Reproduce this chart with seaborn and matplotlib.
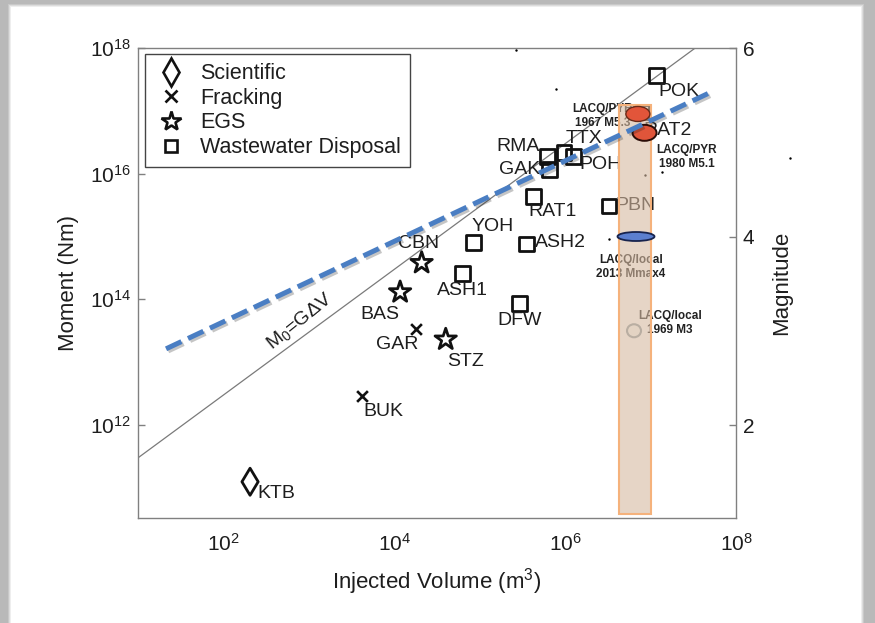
import numpy as np
import pandas as pd
import matplotlib
matplotlib.use("Agg")
import matplotlib.pyplot as plt
import matplotlib.patheffects as pe
from matplotlib.patches import Rectangle, Ellipse
from matplotlib.lines import Line2D
from matplotlib.transforms import ScaledTranslation
from matplotlib.ticker import FixedLocator, FuncFormatter, NullLocator
import seaborn as sns

# ---- injection sites -------------------------------------------------------
site_names = ["KTB", "BUK", "GAR", "BAS", "CBN", "STZ", "ASH1", "YOH", "DFW",
              "ASH2", "RAT1", "GAK", "RMA", "TTX", "POH", "PBN", "POK", "RAT2"]
site_types = ["Scientific", "Fracking", "Fracking", "EGS", "EGS", "EGS",
              "Wastewater Disposal", "Wastewater Disposal", "Wastewater Disposal",
              "Wastewater Disposal", "Wastewater Disposal", "Wastewater Disposal",
              "Wastewater Disposal", "Wastewater Disposal", "Wastewater Disposal",
              "Wastewater Disposal", "Wastewater Disposal", "Wastewater Disposal"]
site_volume = [2.05e2, 4.16e3, 1.79e4, 1.17e4, 2.09e4, 4.0e4, 6.3e4, 8.4e4, 2.9e5,
               3.5e5, 4.3e5, 6.5e5, 6.25e5, 9.7e5, 1.24e6, 3.26e6, 1.17e7, 7.9e6]
site_moment = [1.25e11, 2.9e12, 3.4e13, 1.3e14, 3.8e14, 2.3e13, 2.6e14, 7.9e14, 8.5e13,
               7.6e14, 4.3e15, 1.15e16, 1.9e16, 2.2e16, 1.85e16, 3.06e15, 3.6e17, 9.6e16]

categories = ["Scientific", "Fracking", "EGS", "Wastewater Disposal"]

# ---- Lacq events ------------------------------------------------------------
lacq_labels = ["LACQ/PYR\n1967 M5.3", "LACQ/PYR\n1980 M5.1",
               "LACQ/local\n2013 Mmax4", "LACQ/local\n1969 M3"]
lacq_volume = [7.1e6, 8.5e6, 6.75e6, 6.4e6]
lacq_magnitude = [5.3, 5.1, 4.0, 3.0]

# Lacq injected-volume band and its moment extent
band_volume = [4.31e6, 1.0e7]
band_moment = [3.8e10, 1.22e17]

# trend drawn through the Lacq cluster
trend_volume = [21.3, 5.16e7]
trend_moment = [1.63e13, 2.0e17]

# small stray points
dot_volume = [2.66e5, 7.8e5, 8.5e6, 1.36e7, 3.26e6, 4.3e8]
dot_moment = [9.3e17, 2.23e17, 9.5e15, 1.06e16, 9.1e14, 1.78e16]

# shear modulus for M0 = G dV (Pa)
G_SHEAR = 3e10
guide_volume = [10.0, 1e8]

x_ticks = [1e2, 1e4, 1e6, 1e8]
y_ticks = [1e12, 1e14, 1e16, 1e18]
mag_ticks = [2, 4, 6]


def moment_to_mw(m):
    return (2.0 / 3.0) * np.log10(m) - 6.0


def mw_to_moment(mw):
    return 10 ** (1.5 * (np.asarray(mw) + 6.0))


# ---- layout / style ---------------------------------------------------------
label_offsets = {  # pixel offsets of each site label from its marker
    "KTB": (26, -12), "BUK": (22, -16), "GAR": (-19, -16), "BAS": (-20, -22),
    "CBN": (-3, 19), "STZ": (20, -22), "ASH1": (0, -17), "YOH": (19, 16),
    "DFW": (0, -17), "ASH2": (34, 1), "RAT1": (19, -15), "GAK": (-30, 0),
    "RMA": (-30, 10), "TTX": (20, 14), "POH": (27, -8), "PBN": (26, 0),
    "POK": (23, -16), "RAT2": (26, -19),
}
marker_style = {
    "Scientific": dict(marker="d", s=190),
    "Fracking": dict(marker="x", s=60),
    "EGS": dict(marker="*", s=260),
    "Wastewater Disposal": dict(marker="s", s=115),
}

sns.set_theme(style="white")
plt.rcParams["font.family"] = ["Liberation Sans", "DejaVu Sans"]
plt.rcParams["mathtext.fontset"] = "custom"
plt.rcParams["mathtext.rm"] = "Liberation Sans"
plt.rcParams["mathtext.it"] = "Liberation Sans:italic"
plt.rcParams["mathtext.bf"] = "Liberation Sans:bold"

W, H = 875, 623
fig = plt.figure(figsize=(W / 100, H / 100), dpi=100)
fig.patch.set_facecolor("#b9b9b9")
# white page with a soft edge
for i, c in enumerate(["#c8c8c8", "#dcdcdc", "#eeeeee"]):
    fig.add_artist(Rectangle(((8 + i) / W, 0), (856 - 2 * i) / W, (619 - i) / H,
                             transform=fig.transFigure, facecolor=c,
                             edgecolor="none", zorder=-3 + i * 0.1))
fig.add_artist(Rectangle((11 / W, 0), 850 / W, 616 / H, transform=fig.transFigure,
                         facecolor="white", edgecolor="none", zorder=-2))

ax = fig.add_axes([138 / W, 1 - 518 / H, 598 / W, 470 / H])
ax.set_xscale("log")
ax.set_yscale("log")
xlim = (10.0, 1e8)
ylim = (10 ** 10.52, 1e18)
ax.set_xlim(*xlim)
ax.set_ylim(*ylim)

df = pd.DataFrame({"name": site_names, "type": site_types,
                   "volume": site_volume, "moment": site_moment})

# M0 = G dV reference line
guide_moment = [G_SHEAR * v for v in guide_volume]
ax.plot(guide_volume, guide_moment, color="#7a7a7a", lw=0.9, zorder=2)

# site markers
for cat in categories:
    sub = df[df["type"] == cat]
    st = marker_style[cat]
    if st["marker"] == "x":
        sns.scatterplot(data=sub, x="volume", y="moment", marker="x", s=st["s"],
                        color="#111111", linewidth=1.9, ax=ax, legend=False, zorder=3)
    else:
        sns.scatterplot(data=sub, x="volume", y="moment", marker=st["marker"],
                        s=st["s"], color="#111111", facecolor="none",
                        edgecolor="#111111", linewidth=2.0, ax=ax, legend=False,
                        zorder=3)

for name, v, m in zip(site_names, site_volume, site_moment):
    dx, dy = label_offsets[name]
    ax.annotate(name, (v, m), xytext=(dx, dy), textcoords="offset pixels",
                ha="center", va="center", fontsize=14, color="#1e1e1e", zorder=3)

# stray dots
ax.scatter(dot_volume, dot_moment, s=3, color="black", zorder=3, clip_on=False,
           linewidths=0)

# M0 = G dV annotation
ax.text(0.27, 0.418, "M$_0$=G\u0394V", transform=ax.transAxes, rotation=39,
        ha="center", va="center", fontsize=14, color="#1e1e1e", zorder=3)

# Lacq annotations
lacq_text_pos = [(0.7776, 0.8553), (0.9172, 0.7681), (0.8244, 0.534), (0.8896, 0.4149)]
for lab, (tx, ty) in zip(lacq_labels, lacq_text_pos):
    ax.text(tx, ty, lab, transform=ax.transAxes, ha="center", va="center",
            fontsize=8.5, fontweight="bold", color="#222222", linespacing=1.25,
            zorder=4)

# Lacq volume band
ax.add_patch(Rectangle((band_volume[0], band_moment[0]),
                       band_volume[1] - band_volume[0],
                       band_moment[1] - band_moment[0],
                       facecolor="#d6b9a0", alpha=0.6, edgecolor="none", zorder=5))
ax.add_patch(Rectangle((band_volume[0], band_moment[0]),
                       band_volume[1] - band_volume[0],
                       band_moment[1] - band_moment[0],
                       facecolor="none", edgecolor="#f5b27c", lw=1.5, zorder=5.1))

# Lacq event ellipses (size in inches, centred on the event)
ell_style = [
    dict(w=0.24, h=0.15, fc="#e2553a", ec="#6a2a18", lw=1.0),
    dict(w=0.24, h=0.16, fc="#e0553a", ec="#2a0d08", lw=1.4),
    dict(w=0.37, h=0.09, fc="#5b7fcf", ec="#17234d", lw=1.3),
    dict(w=0.14, h=0.13, fc="#e3d3c3", ec="#b9aea2", lw=1.5),
]
for v, mw, st in zip(lacq_volume, lacq_magnitude, ell_style):
    tr = fig.dpi_scale_trans + ScaledTranslation(v, mw_to_moment(mw), ax.transData)
    ax.add_patch(Ellipse((0, 0), st["w"], st["h"], transform=tr, facecolor=st["fc"],
                         edgecolor=st["ec"], lw=st["lw"], zorder=6))

# trend
ax.plot(trend_volume, trend_moment, color="#4a7ec3", lw=3.6,
        linestyle=(0, (3.4, 1.45)), dash_capstyle="butt", zorder=7,
        path_effects=[pe.SimpleLineShadow(offset=(1.5, -1.5), alpha=0.25),
                      pe.Normal()])

ax.set_xlim(*xlim)
ax.set_ylim(*ylim)

# axes styling
for sp in ax.spines.values():
    sp.set_color("#808080")
    sp.set_linewidth(1.0)
sci = FuncFormatter(lambda v, p: r"$10^{%d}$" % int(round(np.log10(v))))
ax.xaxis.set_major_locator(FixedLocator(x_ticks))
ax.yaxis.set_major_locator(FixedLocator(y_ticks))
ax.xaxis.set_minor_locator(NullLocator())
ax.yaxis.set_minor_locator(NullLocator())
ax.xaxis.set_major_formatter(sci)
ax.yaxis.set_major_formatter(sci)
ax.tick_params(axis="both", which="major", direction="in", length=5, width=1,
               color="#808080", labelsize=15, labelcolor="#1e1e1e")
ax.tick_params(axis="x", pad=11)
ax.tick_params(axis="y", pad=5)
ax.set_xlabel("Injected Volume (m$^3$)", fontsize=16, color="#1e1e1e", labelpad=8)
ax.set_ylabel("Moment (Nm)", fontsize=16, color="#1e1e1e", labelpad=8)

ax2 = ax.twinx()
ax2.set_ylim(moment_to_mw(ylim[0]), moment_to_mw(ylim[1]))
ax2.set_yticks(mag_ticks)
ax2.set_yticklabels([str(t) for t in mag_ticks])
ax2.tick_params(axis="y", direction="in", length=5, width=1, color="#808080",
                labelsize=15, labelcolor="#1e1e1e", pad=5)
for sp in ax2.spines.values():
    sp.set_visible(False)
ax2.set_ylabel("Magnitude", fontsize=16, color="#1e1e1e", labelpad=12)

# legend
handles = [
    Line2D([], [], ls="none", marker="d", ms=14, mfc="none", mec="#111111", mew=1.9),
    Line2D([], [], ls="none", marker="x", ms=8, mec="#111111", mew=1.9),
    Line2D([], [], ls="none", marker="*", ms=15, mfc="none", mec="#111111", mew=1.9),
    Line2D([], [], ls="none", marker="s", ms=9, mfc="none", mec="#111111", mew=1.9),
]
leg = ax.legend(handles, categories, loc="upper left",
                bbox_to_anchor=(0.0117, 0.9872), borderaxespad=0, fontsize=15.5,
                frameon=True, fancybox=False, framealpha=1, edgecolor="#444444",
                handlelength=1.6, handletextpad=0.55, borderpad=0.42,
                labelspacing=0.17)
leg.get_frame().set_linewidth(1.0)
leg.set_zorder(10)
for t in leg.get_texts():
    t.set_color("#1e1e1e")

fig.savefig("out.png", dpi=100, facecolor=fig.get_facecolor())
